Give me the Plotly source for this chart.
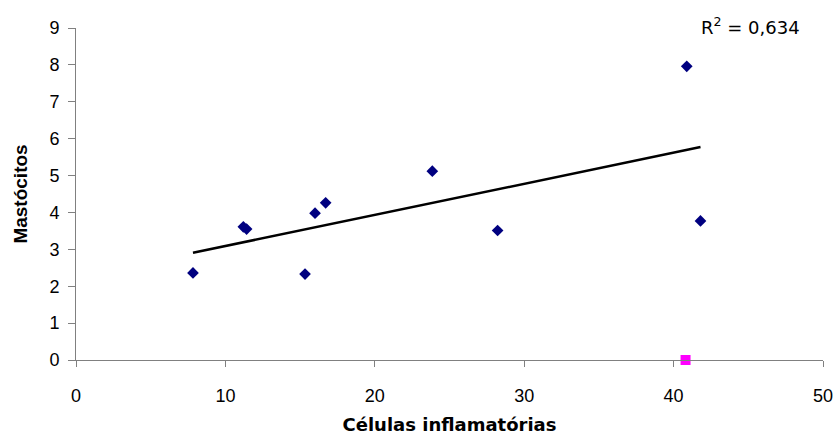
import numpy as np
import plotly.graph_objects as go

# Data
celulas = [7.83, 11.20, 11.42, 15.33, 16.0, 16.71, 23.85, 28.22, 40.88, 41.8]
mastocitos = [2.36, 3.61, 3.55, 2.33, 3.98, 4.26, 5.12, 3.51, 7.96, 3.77]
outlier_x = [40.8]
outlier_y = [0.0]
x_ticks = [0, 10, 20, 30, 40, 50]
y_ticks = [0, 1, 2, 3, 4, 5, 6, 7, 8, 9]
r2_label = "R<sup>2</sup> = 0,634"

slope, intercept = np.polyfit(celulas, mastocitos, 1)
tx = [min(celulas), max(celulas)]
ty = [slope * v + intercept for v in tx]

FONT = "Liberation Sans, Arial, sans-serif"

fig = go.Figure()
fig.add_trace(go.Scatter(x=tx, y=ty, mode="lines",
                         line=dict(color="black", width=2.5),
                         hoverinfo="skip", showlegend=False))
fig.add_trace(go.Scatter(x=celulas, y=mastocitos, mode="markers",
                         marker=dict(symbol="diamond", size=9, color="#000080"),
                         showlegend=False))
fig.add_trace(go.Scatter(x=outlier_x, y=outlier_y, mode="markers",
                         marker=dict(symbol="square", size=10, color="#FF00FF"),
                         cliponaxis=False, showlegend=False))

fig.update_layout(
    width=837, height=436,
    margin=dict(l=76, r=14, t=28, b=76),
    paper_bgcolor="white", plot_bgcolor="white",
    font=dict(family=FONT, size=18, color="black"),
    xaxis=dict(range=[0, 50], tickvals=x_ticks, showgrid=False, zeroline=False,
               automargin=False,
               showline=True, linecolor="#808080", linewidth=1,
               ticks="outside", ticklen=6, tickcolor="#808080",
               ticklabelstandoff=13, tickfont=dict(size=18),
               title=dict(text="<b>Células inflamatórias</b>",
                          font=dict(family="DejaVu Sans, sans-serif", size=18), standoff=13)),
    yaxis=dict(range=[0, 9], tickvals=y_ticks, showgrid=False, zeroline=False,
               automargin=False,
               showline=True, linecolor="#808080", linewidth=1,
               ticks="outside", ticklen=7, tickcolor="#808080",
               ticklabelstandoff=5, tickfont=dict(size=18),
               title=dict(text="<b>Mastócitos</b>", font=dict(size=19), standoff=16)),
    annotations=[dict(text=r2_label, xref="paper", yref="paper",
                      x=(750.5 - 76) / 747, y=1 + (28 - 25.7) / 332,
                      xanchor="center", yanchor="middle", showarrow=False,
                      font=dict(family="DejaVu Sans, sans-serif", size=18))],
)

fig.write_html("out.html")
